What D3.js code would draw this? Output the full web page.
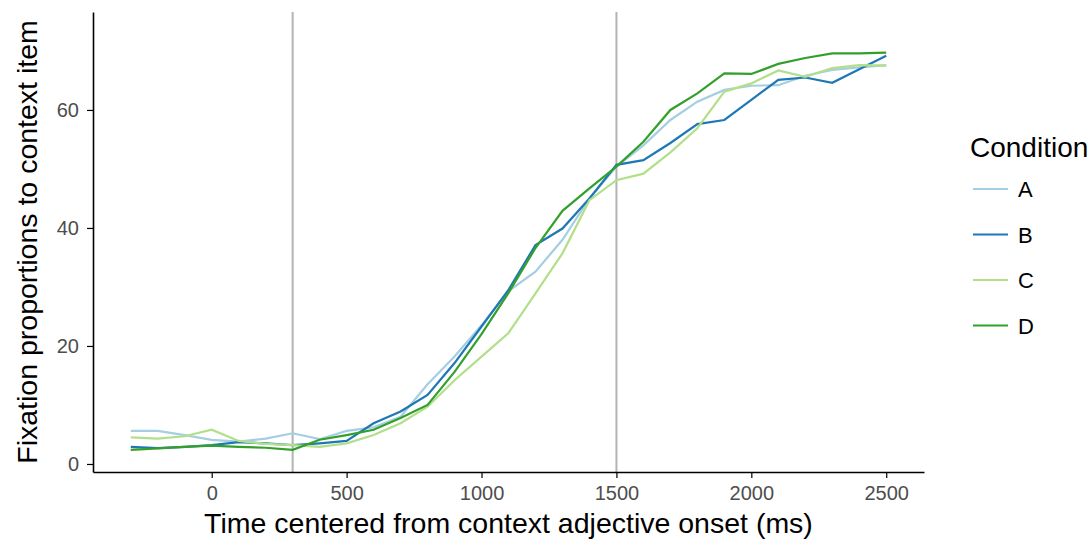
<!DOCTYPE html>
<html>
<head>
<meta charset="utf-8">
<script src="https://cdn.jsdelivr.net/npm/d3@7"></script>
<style>
  body { margin: 0; background: #fff; }
  text { font-family: "Liberation Sans", Arial, sans-serif; }
  .axis path, .axis line { stroke: #000; }
  .axis text { fill: #4d4d4d; font-size: 20px; font-family: "Liberation Sans", Arial, sans-serif; }
</style>
</head>
<body>
<div id="chart"></div>
<script>
// time bins (ms)
var times = [-300, -200, -100, 0, 100, 200, 300, 400, 500, 600, 700, 800, 900, 1000,
  1100, 1200, 1300, 1400, 1500, 1600, 1700, 1800, 1900, 2000, 2100, 2200, 2300, 2400, 2500];
var conditions = ["A", "B", "C", "D"];
var condA = [5.6, 5.6, 4.9, 4.1, 3.8, 4.3, 5.2, 4.2, 5.6, 6.2, 8.0, 13.5, 18.2, 23.5,
  29.3, 32.6, 38.0, 45.0, 50.4, 54.0, 58.3, 61.4, 63.4, 64.1, 64.2, 65.8, 66.8, 67.2, 67.6];
var condB = [2.9, 2.7, 2.9, 3.2, 3.7, 3.5, 3.2, 3.5, 3.9, 6.9, 8.9, 11.7, 17.1, 23.3,
  29.5, 37.1, 39.9, 45.0, 50.7, 51.5, 54.4, 57.6, 58.3, 61.7, 65.1, 65.5, 64.6, 66.9, 69.2];
var condC = [4.5, 4.3, 4.7, 5.8, 3.9, 3.4, 3.2, 2.9, 3.5, 4.9, 6.9, 9.7, 14.2, 18.2,
  22.2, 28.9, 35.7, 44.7, 48.1, 49.2, 52.8, 56.9, 63.1, 64.5, 66.7, 65.6, 67.1, 67.6, 67.5];
var condD = [2.4, 2.65, 2.9, 3.1, 2.9, 2.75, 2.4, 4.1, 4.9, 5.8, 7.8, 10.0, 15.6, 22.0,
  29.0, 36.6, 42.9, 46.7, 50.4, 54.6, 60.0, 62.8, 66.2, 66.1, 67.8, 68.8, 69.6, 69.6, 69.7];
var xTicks = [0, 500, 1000, 1500, 2000, 2500];
var yTicks = [0, 20, 40, 60];
var markerTimes = [300, 1500];
var colors = ["#a6cee3", "#1f78b4", "#b2df8a", "#33a02c"];

var W = 1092, H = 542;
var margin = { left: 93, right: 168, top: 12, bottom: 70 };
var width = W - margin.left - margin.right,
    height = H - margin.top - margin.bottom;

var series = conditions.map(function(c, i) {
  var vals = [condA, condB, condC, condD][i];
  return { key: c, values: times.map(function(t, j) { return { t: t, v: vals[j] }; }) };
});

var svg = d3.select("#chart").append("svg")
  .attr("width", W).attr("height", H);
var g = svg.append("g")
  .attr("transform", "translate(" + margin.left + "," + margin.top + ")");

var x = d3.scaleLinear().domain([-440, 2640]).range([0, width]);
var y = d3.scaleLinear().domain([-1.36, 76.6]).range([height, 0]);
var color = d3.scaleOrdinal().domain(conditions).range(colors);

// vertical reference lines
g.selectAll(".marker").data(markerTimes).enter().append("line")
  .attr("class", "marker")
  .attr("x1", function(d) { return x(d); }).attr("x2", function(d) { return x(d); })
  .attr("y1", 0).attr("y2", height)
  .attr("stroke", "#b3b3b3").attr("stroke-width", 2);

// lines
var line = d3.line()
  .x(function(d) { return x(d.t); })
  .y(function(d) { return y(d.v); });
g.selectAll(".line").data(series).enter().append("path")
  .attr("class", "line")
  .attr("d", function(d) { return line(d.values); })
  .attr("fill", "none")
  .attr("stroke", function(d) { return color(d.key); })
  .attr("stroke-width", 2.2);

// axes
var xAxis = g.append("g").attr("class", "axis")
  .attr("transform", "translate(0," + height + ")")
  .call(d3.axisBottom(x).tickValues(xTicks).tickFormat(d3.format("d"))
    .tickSize(6).tickPadding(8).tickSizeOuter(0));
var yAxis = g.append("g").attr("class", "axis")
  .call(d3.axisLeft(y).tickValues(yTicks).tickFormat(d3.format("d"))
    .tickSize(6).tickPadding(8).tickSizeOuter(0));
[xAxis, yAxis].forEach(function(a) {
  a.select(".domain").attr("stroke-width", 1.6);
  a.selectAll(".tick line").attr("stroke-width", 1.2);
});

// axis titles
svg.append("text")
  .attr("x", margin.left + width / 2).attr("y", 533)
  .attr("text-anchor", "middle").attr("font-size", 28.5).attr("fill", "#000")
  .text("Time centered from context adjective onset (ms)");
svg.append("text")
  .attr("transform", "translate(37," + (margin.top + height / 2) + ") rotate(-90)")
  .attr("text-anchor", "middle").attr("font-size", 28.5).attr("fill", "#000")
  .text("Fixation proportions to context item");

// legend
var legend = svg.append("g").attr("transform", "translate(970,0)");
legend.append("text").attr("x", 0).attr("y", 157)
  .attr("font-size", 28).attr("fill", "#000").text("Condition");
var items = legend.selectAll(".legend-item").data(conditions).enter().append("g")
  .attr("class", "legend-item")
  .attr("transform", function(d, i) { return "translate(0," + (189 + i * 45.5) + ")"; });
items.append("line")
  .attr("x1", 3).attr("x2", 38).attr("y1", 0).attr("y2", 0)
  .attr("stroke", function(d) { return color(d); }).attr("stroke-width", 2.2);
items.append("text")
  .attr("x", 48).attr("y", 8)
  .attr("font-size", 22).attr("fill", "#000").text(function(d) { return d; });
</script>
</body>
</html>
